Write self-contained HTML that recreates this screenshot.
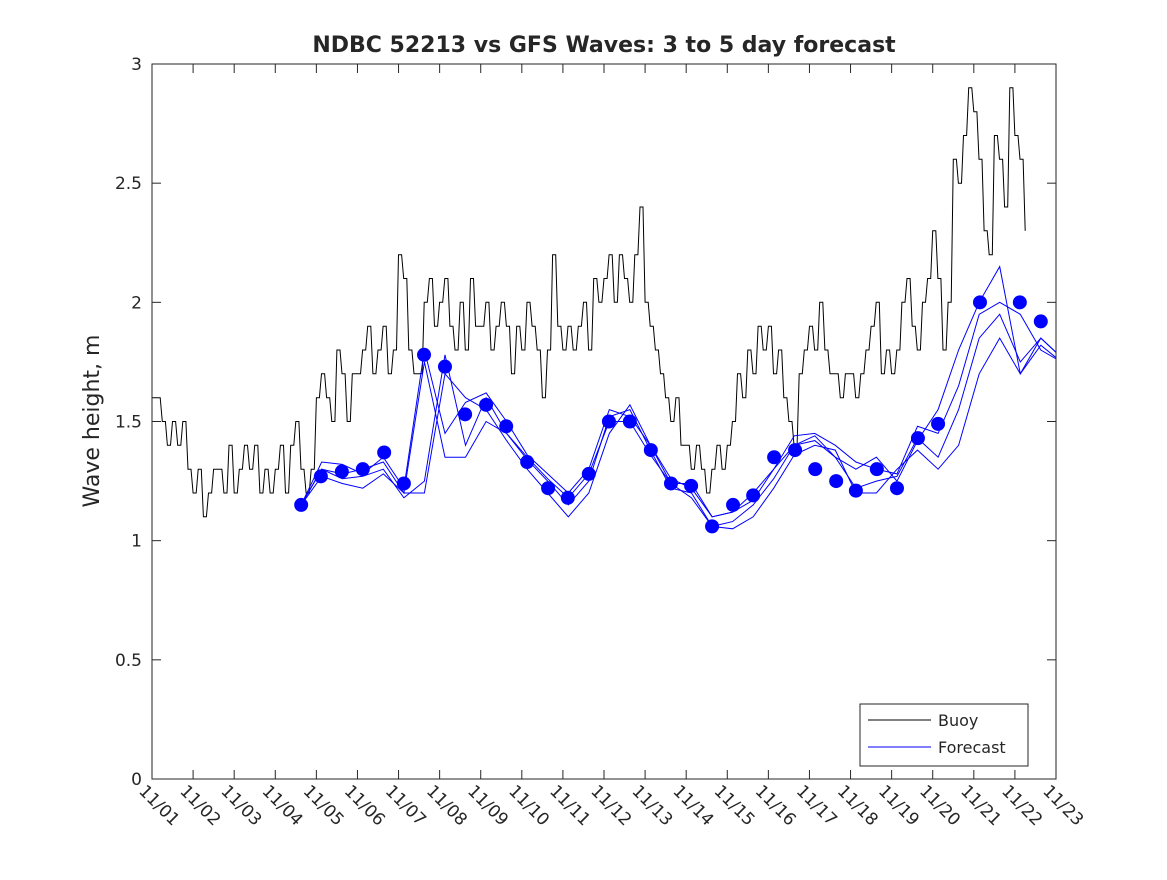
<!DOCTYPE html>
<html><head><meta charset="utf-8"><style>
body{margin:0;background:#fff}
svg text{font-family:"DejaVu Sans","Liberation Sans",sans-serif;fill:#262626}
</style></head><body>
<svg width="1167" height="875">
<rect width="1167" height="875" fill="#fff"/>
<text x="604" y="52" text-anchor="middle" font-size="22" font-weight="bold" fill="#000">NDBC 52213 vs GFS Waves: 3 to 5 day forecast</text>
<text transform="translate(99,421) rotate(-90)" text-anchor="middle" font-size="22">Wave height, m</text>
<defs><clipPath id="pc"><rect x="152" y="64" width="904" height="715"/></clipPath></defs>
<g id="axes"></g>
<g id="series" clip-path="url(#pc)"></g>
<rect x="152" y="64" width="904" height="715" fill="none" stroke="#262626" stroke-width="1"/>
<g>
<rect x="860" y="704" width="168" height="62" fill="#fff" stroke="#262626"/>
<line x1="868" y1="720" x2="931" y2="720" stroke="#000"/>
<text x="938" y="726" font-size="16">Buoy</text>
<line x1="868" y1="747" x2="931" y2="747" stroke="#0000ff"/>
<text x="938" y="753" font-size="16">Forecast</text>
</g>
</svg>
<script>
const yTicks=[0,0.5,1,1.5,2,2.5,3];
const yTickLabels=["0","0.5","1","1.5","2","2.5","3"];
const xTickLabels=["11/01","11/02","11/03","11/04","11/05","11/06","11/07","11/08","11/09","11/10","11/11","11/12","11/13","11/14","11/15","11/16","11/17","11/18","11/19","11/20","11/21","11/22","11/23"];
const buoyStart=0, buoyStep=0.125;
const buoyHeights=[1.6,1.6,1.5,1.4,1.5,1.4,1.5,1.3,
1.2,1.3,1.1,1.2,1.3,1.3,1.2,1.4,
1.2,1.3,1.4,1.3,1.4,1.2,1.3,1.2,
1.3,1.4,1.2,1.4,1.5,1.3,1.2,1.3,
1.6,1.7,1.6,1.5,1.8,1.7,1.5,1.7,
1.7,1.8,1.9,1.7,1.8,1.9,1.7,1.8,
2.2,2.1,1.8,1.7,1.7,2.0,2.1,1.9,
2.0,2.1,1.9,1.8,2.0,1.8,2.1,1.9,
1.9,2.0,1.8,1.9,2.0,1.9,1.7,1.9,
1.8,2.0,1.9,1.8,1.6,1.8,2.2,1.9,
1.8,1.9,1.8,1.9,2.0,1.8,2.1,2.0,
2.1,2.2,2.0,2.2,2.1,2.0,2.2,2.4,
2.0,1.9,1.8,1.7,1.6,1.5,1.6,1.4,
1.4,1.3,1.4,1.3,1.2,1.3,1.4,1.3,
1.4,1.5,1.7,1.6,1.8,1.7,1.9,1.8,
1.9,1.7,1.8,1.6,1.5,1.4,1.7,1.8,
1.9,1.8,2.0,1.8,1.7,1.7,1.6,1.7,
1.7,1.6,1.7,1.8,1.9,2.0,1.7,1.8,
1.7,1.8,2.0,2.1,1.9,1.8,2.0,2.1,
2.3,2.1,1.8,2.0,2.6,2.5,2.7,2.9,
2.8,2.6,2.3,2.2,2.7,2.6,2.4,2.9,
2.7,2.6,2.3];
const fcStart=3.63, fcStep=0.5;
const fcA=[1.15,1.33,1.32,1.28,1.35,1.22,1.80,1.45,1.58,1.62,1.50,1.36,1.28,1.20,1.30,1.55,1.52,1.40,1.26,1.22,1.10,1.12,1.20,1.30,1.44,1.45,1.40,1.33,1.30,1.28,1.48,1.45,1.65,1.95,2.00,1.95,1.80,1.75];
const fcB=[1.15,1.30,1.26,1.27,1.30,1.18,1.25,1.78,1.40,1.60,1.45,1.34,1.25,1.15,1.25,1.52,1.55,1.38,1.22,1.20,1.06,1.08,1.15,1.26,1.40,1.42,1.35,1.22,1.25,1.27,1.43,1.35,1.55,1.85,1.95,1.75,1.85,1.77];
const fcC=[1.15,1.27,1.24,1.22,1.28,1.20,1.20,1.70,1.60,1.55,1.42,1.30,1.20,1.10,1.20,1.45,1.57,1.40,1.24,1.18,1.06,1.05,1.10,1.22,1.36,1.40,1.38,1.20,1.20,1.30,1.38,1.30,1.40,1.70,1.85,1.70,1.82,1.75];
const fcD=[1.15,1.30,1.28,1.30,1.33,1.20,1.75,1.35,1.35,1.50,1.45,1.35,1.26,1.18,1.28,1.50,1.50,1.36,1.24,1.24,1.10,1.12,1.17,1.30,1.40,1.44,1.35,1.30,1.35,1.25,1.42,1.55,1.80,2.00,2.15,1.70,1.85,1.77];
const dotDays=[3.63,4.11,4.62,5.13,5.65,6.13,6.62,7.13,7.62,8.13,8.62,9.13,9.64,10.12,10.63,11.12,11.63,12.14,12.63,13.12,13.63,14.14,14.63,15.14,15.65,16.14,16.65,17.13,17.64,18.13,18.64,19.13,20.15,21.12,21.63];
const dotValues=[1.15,1.27,1.29,1.30,1.37,1.24,1.78,1.73,1.53,1.57,1.48,1.33,1.22,1.18,1.28,1.50,1.50,1.38,1.24,1.23,1.06,1.15,1.19,1.35,1.38,1.30,1.25,1.21,1.30,1.22,1.43,1.49,2.00,2.00,1.92];

const NS="http://www.w3.org/2000/svg";
const X0=152,X1=1056,Y0=779,Y1=64;
function xs(d){return X0+d*(X1-X0)/22;}
function ys(v){return Y0-v*(Y0-Y1)/3;}
const ax=document.getElementById('axes'), se=document.getElementById('series');
function mk(t,a,p){const e=document.createElementNS(NS,t);for(const k in a)e.setAttribute(k,a[k]);p.appendChild(e);return e;}
yTicks.forEach((v,i)=>{
 const y=ys(v);
 const t=mk('line',{x1:X0,y1:y,x2:X0+9,y2:y,stroke:'#262626'},ax);
 
 
 const t2=mk('line',{x1:X1-9,y1:y,x2:X1,y2:y,stroke:'#262626'},ax);
 
 
 const l=mk('text',{x:X0-10,y:y+6,'text-anchor':'end','font-size':17},ax);
 l.textContent=yTickLabels[i];
 
 
});
xTickLabels.forEach((s,i)=>{
 const x=xs(i);
 const t=mk('line',{x1:x,y1:Y0,x2:x,y2:Y0-9,stroke:'#262626'},ax);
 
 
 const t2=mk('line',{x1:x,y1:Y1,x2:x,y2:Y1+9,stroke:'#262626'},ax);
 
 
 const l=mk('text',{x:0,y:0,'font-size':17,transform:`translate(${x-14},${Y0+13}) rotate(45)`},ax);
 l.textContent=s;
 
 
});
let bp=[];
buoyHeights.forEach((v,i)=>{
 const xa=xs(buoyStart+i*buoyStep), xb=xs(buoyStart+(i+1)*buoyStep);
 bp.push(xa.toFixed(1)+','+ys(v).toFixed(1));
 if(i<buoyHeights.length-1) bp.push((xa+(xb-xa)*0.6).toFixed(1)+','+ys(v).toFixed(1));
});
const bl=mk('polyline',{points:bp.join(' '),fill:'none',stroke:'#000','stroke-width':1},se);


[fcA,fcB,fcC,fcD].forEach(arr=>{
 const p=arr.map((v,i)=>xs(fcStart+i*fcStep).toFixed(1)+','+ys(v).toFixed(1)).join(' ');
 const l=mk('polyline',{points:p,fill:'none',stroke:'#0000ff','stroke-width':1},se);
 
 
});
dotDays.forEach((d,i)=>{
 const c=mk('circle',{cx:xs(d),cy:ys(dotValues[i]),r:7,fill:'#0000ff'},se);
 
 
});
</script>
</body></html>
